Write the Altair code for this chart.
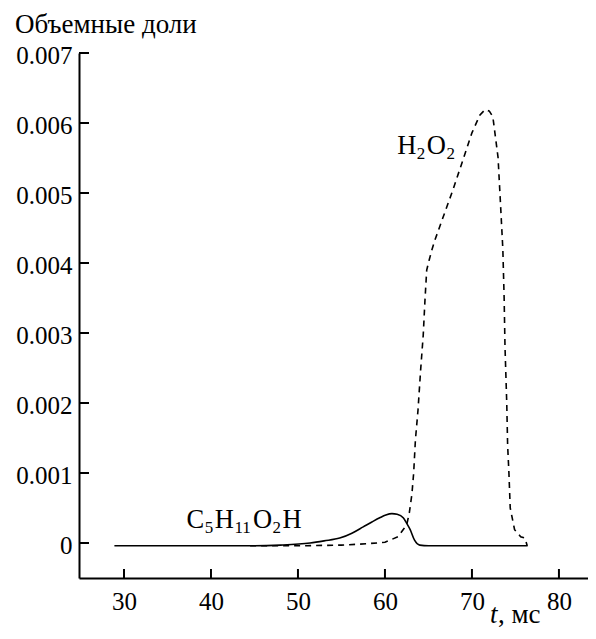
import altair as alt
import pandas as pd

# ---- data ----
t_c5 = [28.9, 40, 45, 48, 51.4, 53, 54.8, 56.2, 57.5, 58.5, 59.4, 60.1, 60.8, 61.4,
        62.1, 62.5, 62.9, 63.4, 64.0, 65, 76.4]
v_c5 = [-0.00004, -0.00004, -0.00004, -0.00003, 0.0, 0.00003, 0.00007, 0.00014, 0.00023,
        0.0003, 0.00036, 0.0004, 0.00042, 0.00041, 0.00036, 0.00028, 0.00019, 0.00004,
        -0.00003, -0.00004, -0.00004]

t_h2o2 = [44.5, 50, 55, 58, 60, 61.5, 62.5, 62.8, 63.1, 63.3, 63.5, 63.8, 64.1, 64.4,
          64.6, 64.8, 65.1, 65.4, 65.75, 66.7, 67.8, 68.85, 70.0, 70.9, 71.5, 72.0,
          72.4, 73.0, 73.3, 73.55, 73.7, 73.8, 74.0, 74.1, 74.25, 74.4, 74.9, 75.6,
          76.1, 76.35]
v_h2o2 = [-0.00004, -0.00004, -0.00003, -0.00001, 0.00001, 0.00009, 0.00026, 0.00043,
          0.0007, 0.001, 0.00147, 0.0019, 0.00247, 0.00297, 0.00347, 0.0039, 0.00405,
          0.00419, 0.00433, 0.00466, 0.00504, 0.00543, 0.00586, 0.00611, 0.00619,
          0.00617, 0.00609, 0.00551, 0.0048, 0.0042, 0.0035, 0.0028, 0.002, 0.0014,
          0.001, 0.0005, 0.00019, 0.00009, 0.00007, -0.00004]

x_ticks = [30, 40, 50, 60, 70, 80]
y_ticks = [0, 0.001, 0.002, 0.003, 0.004, 0.005, 0.006, 0.007]

y_title = "Объемные доли"
x_title_italic = "t"
x_title_rest = ", мс"

label_t = [61.4, 37.2]
label_v = [0.00556, 0.00021]
label_parts = [
    [("H", False), ("2", True), ("O", False), ("2", True)],
    [("C", False), ("5", True), ("H", False), ("11", True), ("O", False), ("2", True), ("H", False)],
]

# ---- styling ----
W, H = 509, 525
FONT = "Liberation Serif"
FS = 25          # tick labels
TFS = 27         # titles
LFS, SFS = 26.5, 17  # curve labels and subscripts
ADV = {"H": 0.722, "O": 0.722, "C": 0.667}

xs = alt.Scale(domain=[24.83, 83.34], nice=False, zero=False)
ys = alt.Scale(domain=[-0.0005, 0.007], nice=False, zero=False)

xaxis = alt.Axis(values=x_ticks, ticks=False, grid=False, title=None, format="d",
                 domainColor="black", domainWidth=2, labelFont=FONT, labelFontSize=FS,
                 labelColor="black", labelPadding=11)
yaxis = alt.Axis(values=y_ticks, ticks=False, grid=False, title=None,
                 labelExpr="datum.value == 0 ? '0' : format(datum.value, '.3f')",
                 domainColor="black", domainWidth=2, labelFont=FONT, labelFontSize=FS,
                 labelColor="black", labelPadding=7, labelBaseline="middle", labelOffset=2)


def X(field="t"):
    return alt.X(f"{field}:Q", scale=xs, axis=xaxis)


def Y(field="v"):
    return alt.Y(f"{field}:Q", scale=ys, axis=yaxis)


df_c5 = pd.DataFrame({"t": t_c5, "v": v_c5})
df_h = pd.DataFrame({"t": t_h2o2, "v": v_h2o2})

c5 = alt.Chart(df_c5).mark_line(color="black", strokeWidth=1.6, interpolate="monotone").encode(
    x=X(), y=Y())
h2 = alt.Chart(df_h).mark_line(color="black", strokeWidth=1.6, strokeDash=[6, 5]).encode(
    x=X(), y=Y())

ytick = alt.Chart(pd.DataFrame({"v": y_ticks})).mark_rule(color="black", strokeWidth=2).encode(
    y=Y(), x=alt.value(0), x2=alt.value(10))
xtick = alt.Chart(pd.DataFrame({"t": x_ticks})).mark_rule(color="black", strokeWidth=2).encode(
    x=X(), y=alt.value(H), y2=alt.value(H - 9))

layers = [c5, h2, ytick, xtick]

for lt, lv, parts in zip(label_t, label_v, label_parts):
    dx = 0.0
    for txt, sub in parts:
        size = SFS if sub else LFS
        layers.append(
            alt.Chart(pd.DataFrame({"t": [lt], "v": [lv], "s": [txt]})).mark_text(
                align="left", baseline="alphabetic", font=FONT, fontSize=size,
                color="black", dx=dx, dy=5 if sub else 0,
            ).encode(x=X(), y=Y(), text="s:N")
        )
        dx += sum(ADV.get(ch, 0.5) for ch in txt) * size + (1.5 if sub else 0.5)

layers.append(
    alt.Chart(pd.DataFrame({"s": [y_title]})).mark_text(
        align="left", baseline="alphabetic", font=FONT, fontSize=TFS, color="black"
    ).encode(x=alt.value(-64), y=alt.value(-20), text="s:N")
)
layers.append(
    alt.Chart(pd.DataFrame({"s": [x_title_italic]})).mark_text(
        align="left", baseline="alphabetic", font=FONT, fontSize=TFS, fontStyle="italic", color="black"
    ).encode(x=alt.value(411), y=alt.value(570), text="s:N")
)
layers.append(
    alt.Chart(pd.DataFrame({"s": [x_title_rest]})).mark_text(
        align="left", baseline="alphabetic", font=FONT, fontSize=TFS, color="black"
    ).encode(x=alt.value(419), y=alt.value(570), text="s:N")
)

chart = alt.layer(*layers).properties(
    width=W, height=H,
    autosize=alt.AutoSizeParams(type="none"),
    padding={"left": 71, "top": 45, "right": 0, "bottom": 53},
).configure_view(stroke=None)

chart.save("out.html", embed_options={"renderer": "svg", "actions": False})
